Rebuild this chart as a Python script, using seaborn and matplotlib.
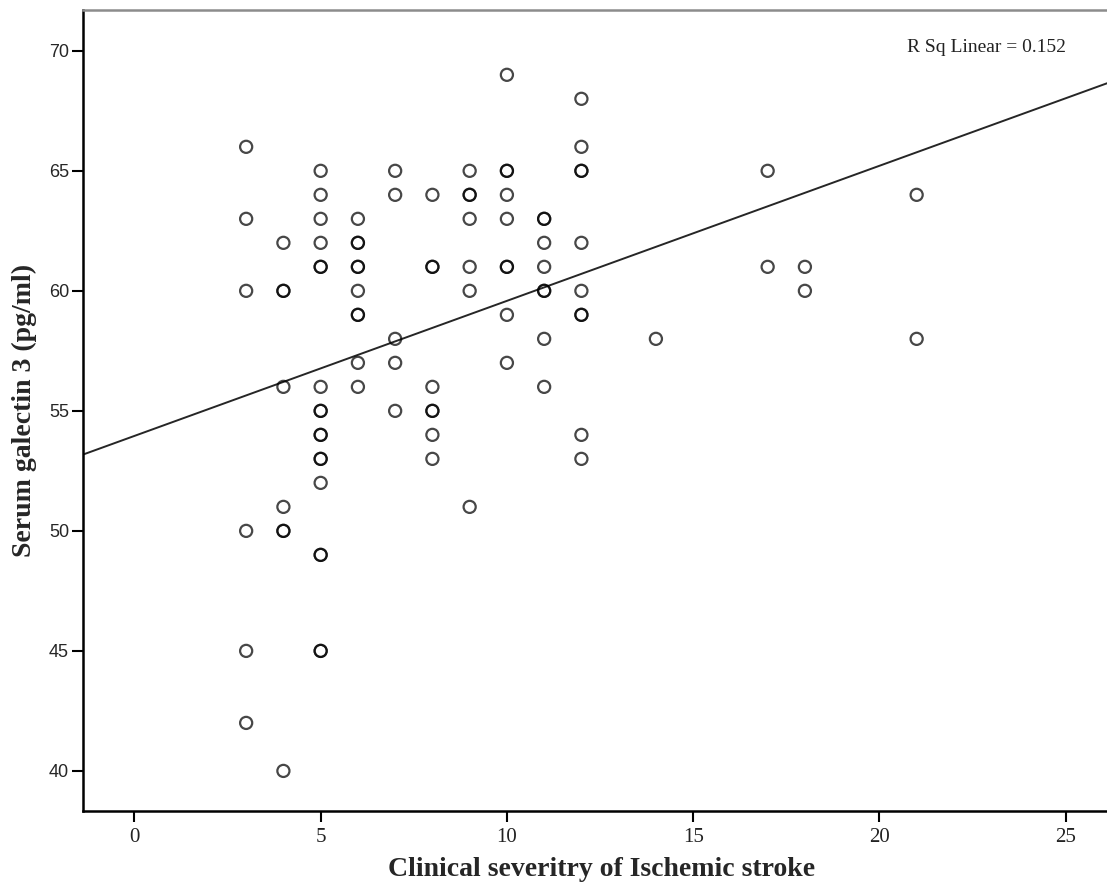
import matplotlib
matplotlib.use("Agg")
import matplotlib.pyplot as plt
import numpy
import pandas
import seaborn as sns

OUTPUT_FILE_NAME = "out.png"

# NIHSS-like severity score per patient, grouped by score
severity = (
    [3] * 6 + [4] * 8 + [5] * 18 + [6] * 10 + [7] * 5 + [8] * 8 + [9] * 7
    + [10] * 9 + [11] * 8 + [12] * 10 + [14] * 1 + [17] * 2 + [18] * 2 + [21] * 2
)

# serum galectin 3 (pg/ml), same order as severity
galectin = [
    66, 63, 60, 50, 45, 42,
    62, 60, 60, 56, 51, 50, 50, 40,
    65, 64, 63, 62, 61, 61, 56, 55, 55, 54, 54, 53, 53, 52, 49, 49, 45, 45,
    63, 62, 62, 61, 61, 60, 59, 59, 57, 56,
    65, 64, 58, 57, 55,
    64, 61, 61, 56, 55, 55, 54, 53,
    65, 64, 64, 63, 61, 60, 51,
    69, 65, 65, 64, 63, 61, 61, 59, 57,
    63, 63, 62, 61, 60, 60, 58, 56,
    68, 66, 65, 65, 62, 60, 59, 59, 54, 53,
    58,
    65, 61,
    61, 60,
    64, 58,
]

x_ticks = [0, 5, 10, 15, 20, 25]
y_ticks = [40, 45, 50, 55, 60, 65, 70]
r_squared_label = "R Sq Linear = 0.152"

frame = pandas.DataFrame({"severity": severity, "galectin": galectin})

sns.set_style("white")
plt.rcParams["font.family"] = ["Liberation Serif", "DejaVu Serif"]

fig = plt.figure(figsize=(11.07, 8.90), dpi=100)
ax = fig.add_axes([83 / 1107, 1 - 811 / 890, 1024 / 1107, 801 / 890])

# limits first, so the untruncated fit spans the whole axis
ax.set_xlim(-1.38, 26.11)
ax.set_ylim(38.33, 71.70)

sns.scatterplot(
    data=frame, x="severity", y="galectin", ax=ax,
    marker="o", s=76, facecolors="none", edgecolor="black",
    linewidth=1.6, alpha=0.72, zorder=3,
)
sns.regplot(
    data=frame, x="severity", y="galectin", ax=ax,
    scatter=False, ci=None, truncate=False,
    line_kws={"color": "#262626", "linewidth": 1.4, "zorder": 2},
)

ax.set_xticks(x_ticks)
ax.set_yticks(y_ticks)
ax.tick_params(bottom=True, left=True, top=False, right=False,
               direction="out", length=8, width=1.5, color="black")
ax.tick_params(axis="x", pad=4, labelsize=15)
ax.tick_params(axis="y", pad=2, labelsize=13)
for label in ax.get_yticklabels():
    label.set_fontfamily("Liberation Sans")
for label in ax.get_xticklabels():
    label.set_color("#222222")

for side in ["left", "bottom"]:
    ax.spines[side].set_color("black")
    ax.spines[side].set_linewidth(1.8)
ax.spines["top"].set_color("#8c8c8c")
ax.spines["top"].set_linewidth(1.8)
ax.spines["right"].set_visible(False)

ax.set_xlabel("Clinical severitry of Ischemic stroke", fontsize=20, fontweight="bold")
ax.set_ylabel("Serum galectin 3 (pg/ml)", fontsize=20, fontweight="bold")
ax.xaxis.set_label_coords(0.506, -0.058)
ax.yaxis.set_label_coords(-0.045, 0.5)

ax.text(0.96, 0.9526, r_squared_label, transform=ax.transAxes,
        ha="right", va="center", fontsize=14, color="#222222")

fig.savefig(OUTPUT_FILE_NAME, dpi=100)
